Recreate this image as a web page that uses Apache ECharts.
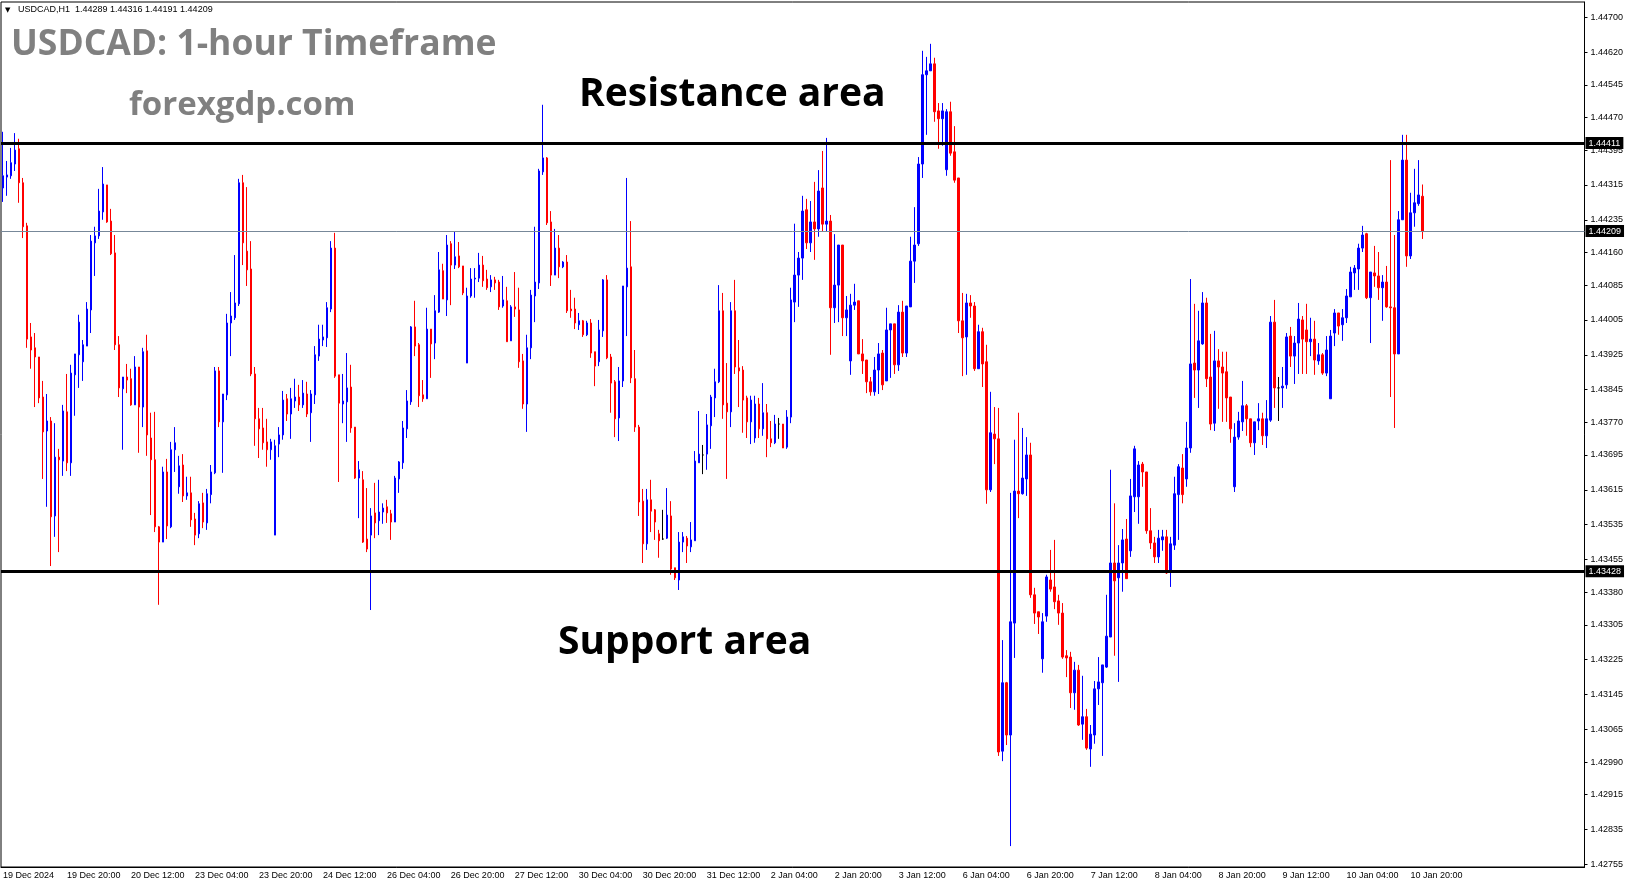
<!DOCTYPE html>
<html><head><meta charset="utf-8">
<script src="https://cdn.jsdelivr.net/npm/echarts@6/dist/echarts.min.js"></script>
<style>html,body{margin:0;padding:0;background:#fff}#c{width:1631px;height:888px}</style>
</head><body><div id="c"></div>
<script>
// ---- categories (hourly bars, broker time) ----
const tradingDays = ['19 Dec','20 Dec','23 Dec','24 Dec','26 Dec','27 Dec','30 Dec','31 Dec','2 Jan','3 Jan','6 Jan','7 Jan','8 Jan','9 Jan','10 Jan'];
const firstBarHour = 4;
const firstLabel = '19 Dec 2024';

// ---- OHLC values ----
const openP = [
1.44308,1.44333,1.44336,1.44363,1.44398,1.44320,1.44221,1.43966,1.43941,1.43920,
1.43828,1.43750,1.43773,1.43555,1.43690,1.43681,1.43794,1.43677,1.43879,1.43925,
1.43909,1.43945,1.44028,1.44182,1.44198,1.44253,1.44315,1.44232,1.44159,1.43948,
1.43847,1.43874,1.43870,1.43810,1.43897,1.43805,1.43934,1.43734,1.43684,1.43530,
1.43495,1.43656,1.43530,1.43707,1.43622,1.43672,1.43601,1.43608,1.43548,1.43514,
1.43585,1.43539,1.43604,1.43654,1.43888,1.43771,1.43833,1.43998,1.44010,1.44042,
1.44320,1.44163,1.44122,1.43881,1.43778,1.43757,1.43725,1.43707,1.43511,1.43720,
1.43741,1.43824,1.43789,1.43819,1.43828,1.43810,1.43835,1.43792,1.43833,1.43922,
1.43959,1.43964,1.44030,1.44170,1.43879,1.43812,1.43817,1.43851,1.43759,1.43642,
1.43638,1.43502,1.43511,1.43562,1.43544,1.43564,1.43576,1.43560,1.43541,1.43640,
1.43677,1.43755,1.43817,1.43989,1.43948,1.43833,1.43824,1.43984,1.43952,1.44023,
1.44118,1.44051,1.44180,1.44131,1.44152,1.44129,1.43906,1.44060,1.44099,1.44101,
1.44131,1.44099,1.44081,1.44097,1.44092,1.44037,1.44049,1.43957,1.44035,1.44028,
1.43911,1.43812,1.43941,1.44060,1.44090,1.44345,1.44377,1.44230,1.44108,1.44170,
1.44127,1.44138,1.44030,1.44030,1.43994,1.44003,1.43971,1.43998,1.43932,1.43909,
1.43980,1.44097,1.43920,1.43863,1.43780,1.43865,1.44081,1.44127,1.43870,1.43759,
1.43589,1.43491,1.43592,1.43569,1.43514,1.43502,1.43504,1.43555,1.43436,1.43408,
1.43495,1.43504,1.43484,1.43498,1.43677,1.43695,1.43697,1.43762,1.43826,1.43863,
1.44026,1.43814,1.43794,1.44026,1.43895,1.43890,1.43826,1.43771,1.43734,1.43812,
1.43755,1.43792,1.43732,1.43723,1.43766,1.43766,1.43713,1.43782,1.44046,1.44108,
1.44147,1.44258,1.44182,1.44230,1.44214,1.44308,1.44225,1.44232,1.44033,1.44085,
1.44177,1.44010,1.43911,1.44039,1.44049,1.43927,1.43913,1.43863,1.43840,1.43890,
1.43929,1.43865,1.43982,1.43996,1.43902,1.44023,1.43929,1.44035,1.44140,1.44180,
1.44363,1.44568,1.44577,1.44593,1.44485,1.44467,1.44350,1.44483,1.44391,1.44331,
1.44003,1.43966,1.44044,1.44037,1.43893,1.43978,1.43909,1.43615,1.43743,1.43732,
1.43015,1.43172,1.43052,1.43309,1.43612,1.43606,1.43640,1.43695,1.43374,1.43335,
1.43227,1.43325,1.43408,1.43392,1.43360,1.43332,1.43234,1.43231,1.43149,1.43201,
1.43077,1.43094,1.43020,1.43052,1.43158,1.43172,1.43208,1.43277,1.43447,1.43413,
1.43447,1.43502,1.43475,1.43599,1.43599,1.43674,1.43656,1.43521,1.43493,1.43461,
1.43500,1.43507,1.43429,1.43488,1.43604,1.43665,1.43640,1.43711,1.43906,1.43890,
1.43950,1.44044,1.43874,1.43768,1.43911,1.43897,1.43886,1.43828,1.43622,1.43736,
1.43771,1.43808,1.43778,1.43723,1.43773,1.43778,1.43739,1.43775,1.44000,1.43849,
1.43849,1.43856,1.43968,1.43922,1.43952,1.44005,1.43982,1.43955,1.43961,1.43911,
1.43925,1.43883,1.43824,1.43975,1.44021,1.43994,1.44010,1.44058,1.44113,1.44122,
1.44170,1.44203,1.44056,1.44113,1.44106,1.44079,1.44092,1.44035,1.44033,1.43927,
1.44235,1.44372,1.44152,1.44251,1.44272,1.44289
];
const closeP = [
1.44336,1.44338,1.44366,1.44395,1.44320,1.44219,1.43961,1.43936,1.43920,1.43826,
1.43748,1.43773,1.43553,1.43690,1.43684,1.43796,1.43677,1.43883,1.43927,1.44000,
1.43948,1.44030,1.44186,1.44198,1.44255,1.44317,1.44230,1.44157,1.43948,1.43849,
1.43874,1.43867,1.43810,1.43897,1.43805,1.43932,1.43741,1.43684,1.43530,1.43495,
1.43656,1.43532,1.43707,1.43723,1.43670,1.43601,1.43608,1.43546,1.43511,1.43583,
1.43541,1.43606,1.43656,1.43888,1.43771,1.43835,1.43998,1.44014,1.44044,1.44320,
1.44182,1.44120,1.43881,1.43778,1.43755,1.43723,1.43707,1.43725,1.43716,1.43741,
1.43821,1.43789,1.43824,1.43828,1.43810,1.43837,1.43789,1.43835,1.43925,1.43961,
1.43966,1.44033,1.44170,1.43876,1.43814,1.43819,1.43849,1.43757,1.43642,1.43661,
1.43495,1.43479,1.43555,1.43539,1.43564,1.43573,1.43562,1.43541,1.43642,1.43679,
1.43757,1.43819,1.43989,1.43945,1.43831,1.43824,1.43984,1.43950,1.44026,1.44120,
1.44053,1.44177,1.44131,1.44150,1.44127,1.44067,1.44060,1.44099,1.44101,1.44131,
1.44095,1.44079,1.44097,1.44090,1.44035,1.44051,1.43955,1.44035,1.44030,1.43909,
1.43812,1.43941,1.44062,1.44092,1.44347,1.44377,1.44228,1.44108,1.44170,1.44127,
1.44138,1.44026,1.44026,1.43998,1.44003,1.43971,1.43998,1.43929,1.43899,1.43982,
1.44097,1.43918,1.43860,1.43778,1.43865,1.44083,1.44124,1.43872,1.43759,1.43587,
1.43491,1.43592,1.43566,1.43541,1.43498,1.43502,1.43557,1.43433,1.43413,1.43495,
1.43507,1.43486,1.43500,1.43681,1.43697,1.43695,1.43764,1.43828,1.43863,1.44026,
1.43810,1.43794,1.44026,1.43897,1.43888,1.43821,1.43771,1.43821,1.43812,1.43755,
1.43792,1.43732,1.43723,1.43766,1.43766,1.43711,1.43782,1.44051,1.44108,1.44147,
1.44255,1.44182,1.44230,1.44214,1.44301,1.44225,1.44232,1.44033,1.44085,1.44177,
1.44010,1.44028,1.44039,1.44046,1.43927,1.43911,1.43863,1.43840,1.43890,1.43927,
1.43856,1.43982,1.43996,1.43902,1.44023,1.43929,1.44037,1.44140,1.44177,1.44363,
1.44568,1.44577,1.44593,1.44483,1.44467,1.44485,1.44483,1.44388,1.44326,1.44003,
1.43964,1.44044,1.44037,1.43893,1.43978,1.43904,1.43615,1.43746,1.43732,1.43013,
1.43172,1.43052,1.43312,1.43612,1.43606,1.43642,1.43695,1.43374,1.43332,1.43323,
1.43312,1.43415,1.43387,1.43358,1.43332,1.43231,1.43229,1.43149,1.43201,1.43075,
1.43094,1.43022,1.43054,1.43158,1.43174,1.43213,1.43279,1.43447,1.43406,1.43447,
1.43500,1.43411,1.43601,1.43709,1.43672,1.43656,1.43521,1.43493,1.43461,1.43504,
1.43507,1.43424,1.43491,1.43606,1.43668,1.43604,1.43711,1.43904,1.43890,1.43957,
1.44044,1.43870,1.43766,1.43911,1.43897,1.43883,1.43826,1.43755,1.43736,1.43773,
1.43808,1.43778,1.43723,1.43771,1.43778,1.43739,1.43778,1.44000,1.43849,1.43849,
1.43853,1.43966,1.43922,1.43952,1.44007,1.43961,1.43955,1.43961,1.43913,1.43925,
1.43883,1.43936,1.43968,1.44021,1.43991,1.44010,1.44060,1.44115,1.44124,1.44170,
1.44200,1.44056,1.44115,1.44106,1.44079,1.44092,1.44035,1.44033,1.43927,1.44235,
1.44372,1.44152,1.44251,1.44274,1.44292,1.44209
];
const lowP = [
1.44276,1.44290,1.44329,1.44347,1.44274,1.44193,1.43941,1.43893,1.43805,1.43814,
1.43640,1.43576,1.43440,1.43507,1.43472,1.43647,1.43658,1.43647,1.43785,1.43849,
1.43865,1.43945,1.43975,1.44106,1.44191,1.44235,1.44228,1.44154,1.43936,1.43828,
1.43707,1.43837,1.43808,1.43810,1.43700,1.43759,1.43693,1.43557,1.43518,1.43351,
1.43495,1.43502,1.43527,1.43656,1.43606,1.43587,1.43592,1.43530,1.43488,1.43504,
1.43527,1.43523,1.43584,1.43651,1.43759,1.43654,1.43821,1.43922,1.44005,1.44037,
1.44131,1.44083,1.43876,1.43716,1.43688,1.43707,1.43668,1.43684,1.43511,1.43690,
1.43730,1.43773,1.43732,1.43803,1.43796,1.43803,1.43782,1.43725,1.43812,1.43911,
1.43945,1.43943,1.44023,1.43872,1.43633,1.43768,1.43725,1.43746,1.43640,1.43550,
1.43493,1.43472,1.43339,1.43504,1.43511,1.43537,1.43539,1.43500,1.43541,1.43608,
1.43663,1.43734,1.43810,1.43922,1.43805,1.43817,1.43824,1.43872,1.43915,1.44021,
1.44053,1.44014,1.44039,1.44122,1.44124,1.44062,1.43906,1.44056,1.44056,1.44092,
1.44081,1.44074,1.44069,1.44074,1.44028,1.44033,1.43955,1.43957,1.44012,1.43895,
1.43801,1.43748,1.43915,1.44000,1.44076,1.44338,1.44223,1.44083,1.44108,1.44101,
1.44124,1.44021,1.44010,1.43984,1.43982,1.43966,1.43968,1.43918,1.43853,1.43899,
1.43966,1.43915,1.43792,1.43736,1.43727,1.43851,1.43968,1.43860,1.43748,1.43555,
1.43447,1.43477,1.43518,1.43500,1.43459,1.43500,1.43502,1.43420,1.43408,1.43385,
1.43472,1.43447,1.43472,1.43498,1.43677,1.43651,1.43661,1.43709,1.43782,1.43860,
1.43778,1.43640,1.43759,1.43881,1.43805,1.43746,1.43734,1.43720,1.43723,1.43734,
1.43739,1.43690,1.43713,1.43720,1.43732,1.43711,1.43709,1.43768,1.44000,1.44035,
1.44097,1.44168,1.44161,1.44143,1.44196,1.44209,1.44209,1.43925,1.43998,1.44000,
1.43968,1.43968,1.43879,1.44028,1.43927,1.43881,1.43837,1.43831,1.43831,1.43835,
1.43844,1.43865,1.43872,1.43881,1.43888,1.43920,1.43920,1.44035,1.44090,1.44175,
1.44331,1.44430,1.44577,1.44460,1.44398,1.44405,1.44336,1.44382,1.44320,1.43975,
1.43876,1.43879,1.44010,1.43888,1.43893,1.43851,1.43583,1.43610,1.43674,1.43004,
1.42992,1.43029,1.42797,1.43229,1.43550,1.43604,1.43601,1.43367,1.43307,1.43284,
1.43195,1.43312,1.43381,1.43341,1.43305,1.43227,1.43185,1.43114,1.43110,1.43073,
1.43041,1.43018,1.42979,1.43032,1.43121,1.43004,1.43206,1.43277,1.43234,1.43174,
1.43381,1.43411,1.43461,1.43564,1.43537,1.43622,1.43514,1.43479,1.43447,1.43447,
1.43475,1.43422,1.43392,1.43477,1.43500,1.43584,1.43622,1.43700,1.43826,1.43803,
1.43948,1.43851,1.43752,1.43750,1.43801,1.43771,1.43771,1.43723,1.43610,1.43730,
1.43750,1.43739,1.43713,1.43695,1.43752,1.43718,1.43711,1.43771,1.43803,1.43773,
1.43803,1.43847,1.43897,1.43858,1.43881,1.43881,1.43881,1.43922,1.43879,1.43902,
1.43879,1.43876,1.43824,1.43945,1.43971,1.43957,1.43998,1.44058,1.44074,1.44074,
1.44161,1.44053,1.43952,1.44081,1.44051,1.44003,1.44033,1.43828,1.43757,1.43927,
1.44235,1.44127,1.44145,1.44219,1.44267,1.44191
];
const highP = [
1.44437,1.44370,1.44400,1.44434,1.44421,1.44331,1.44228,1.43998,1.43975,1.43920,
1.43865,1.43835,1.43782,1.43768,1.43709,1.43810,1.43881,1.43902,1.43927,1.44017,
1.43959,1.44046,1.44200,1.44219,1.44306,1.44356,1.44315,1.44260,1.44200,1.43968,
1.43874,1.43904,1.43893,1.43922,1.43897,1.43941,1.43971,1.43792,1.43794,1.43532,
1.43668,1.43686,1.43725,1.43759,1.43693,1.43697,1.43645,1.43645,1.43562,1.43589,
1.43608,1.43617,1.43672,1.43897,1.43897,1.43835,1.44019,1.44069,1.44154,1.44329,
1.44338,1.44310,1.44186,1.43897,1.43803,1.43803,1.43778,1.43732,1.43730,1.43759,
1.43842,1.43835,1.43849,1.43870,1.43856,1.43867,1.43863,1.43844,1.43945,1.43994,
1.43994,1.44046,1.44186,1.44205,1.43879,1.43881,1.43929,1.43902,1.43759,1.43681,
1.43658,1.43619,1.43573,1.43631,1.43638,1.43584,1.43592,1.43569,1.43647,1.43681,
1.43773,1.43844,1.43991,1.44049,1.43952,1.43867,1.44033,1.43984,1.44062,1.44161,
1.44134,1.44200,1.44186,1.44207,1.44184,1.44129,1.44079,1.44124,1.44124,1.44159,
1.44152,1.44120,1.44108,1.44104,1.44097,1.44106,1.44081,1.44039,1.44115,1.44079,
1.43927,1.43971,1.44074,1.44219,1.44352,1.44499,1.44379,1.44255,1.44214,1.44200,
1.44140,1.44154,1.44074,1.44056,1.44021,1.44005,1.44003,1.44007,1.43932,1.44005,
1.44099,1.44108,1.43927,1.43867,1.43897,1.44083,1.44331,1.44232,1.43936,1.43764,
1.43617,1.43617,1.43638,1.43571,1.43523,1.43569,1.43619,1.43589,1.43436,1.43518,
1.43518,1.43509,1.43541,1.43704,1.43796,1.43718,1.43789,1.43833,1.43893,1.44085,
1.44067,1.43906,1.44046,1.44097,1.43959,1.43899,1.43831,1.43831,1.43831,1.43826,
1.43860,1.43812,1.43773,1.43787,1.43780,1.43766,1.43798,1.44079,1.44226,1.44161,
1.44290,1.44283,1.44278,1.44322,1.44349,1.44393,1.44423,1.44246,1.44202,1.44177,
1.44177,1.44060,1.44065,1.44088,1.44049,1.43961,1.43913,1.43874,1.43920,1.43952,
1.43936,1.44033,1.43996,1.43996,1.44039,1.44049,1.44037,1.44196,1.44264,1.44379,
1.44623,1.44609,1.44639,1.44607,1.44503,1.44503,1.44489,1.44506,1.44450,1.44331,
1.44067,1.44065,1.44062,1.44046,1.43994,1.43987,1.43948,1.43840,1.43805,1.43803,
1.43270,1.43174,1.43608,1.43730,1.43792,1.43757,1.43736,1.43723,1.43390,1.43335,
1.43332,1.43420,1.43477,1.43500,1.43374,1.43355,1.43247,1.43243,1.43220,1.43213,
1.43188,1.43112,1.43075,1.43176,1.43231,1.43213,1.43374,1.43661,1.43584,1.43488,
1.43525,1.43548,1.43640,1.43716,1.43681,1.43679,1.43656,1.43573,1.43507,1.43523,
1.43523,1.43523,1.43507,1.43645,1.43674,1.43697,1.43771,1.44099,1.44042,1.44026,
1.44069,1.44056,1.43973,1.43980,1.43938,1.43932,1.43932,1.43828,1.43768,1.43794,
1.43865,1.43812,1.43778,1.43771,1.43814,1.43792,1.43821,1.44014,1.44051,1.43874,
1.43897,1.43975,1.43989,1.43968,1.44044,1.44014,1.44042,1.44010,1.44003,1.43952,
1.43929,1.43968,1.43982,1.44030,1.44021,1.44030,1.44076,1.44127,1.44131,1.44180,
1.44221,1.44205,1.44115,1.44175,1.44161,1.44108,1.44129,1.44372,1.44200,1.44255,
1.44430,1.44430,1.44297,1.44352,1.44372,1.44316
];

// ---- price axis tick labels and levels ----
const yTickLabels = ['1.44700','1.44620','1.44545','1.44470','1.44395','1.44315','1.44235','1.44160','1.44085','1.44005',
'1.43925','1.43845','1.43770','1.43695','1.43615','1.43535','1.43455','1.43380','1.43305','1.43225','1.43145','1.43065',
'1.42990','1.42915','1.42835','1.42755'];
const resistanceLevel = 1.44411;
const supportLevel = 1.43428;
const lastPrice = 1.44209;
const headerText = 'USDCAD,H1  1.44289 1.44316 1.44191 1.44209';

// ---- build ----
const categories = [];
tradingDays.forEach((d, k) => {
  for (let h = (k === 0 ? firstBarHour : 0); h < 24; h++) categories.push(d + ' ' + String(h).padStart(2, '0') + ':00');
});
const xCats = categories.concat(new Array(40).fill(''));
const candleData = openP.map((o, i) => [o, closeP[i], lowP[i], highP[i]]);
const yTickVals = yTickLabels.map(Number);
const showLbl = (i) => i % 16 === 0 && i < categories.length;

const boxLabel = {
  show: true, position: 'end', distance: 1,
  formatter: (p) => Number(p.value).toFixed(5),
  backgroundColor: '#000', color: '#fff', padding: [2, 3, 1, 3],
  fontSize: 9, fontFamily: 'Liberation Sans'
};

const chart = echarts.init(document.getElementById('c'), null, { renderer: 'canvas', devicePixelRatio: 1 });
chart.setOption({
  animation: false,
  backgroundColor: '#fff',
  grid: { left: 0.5, right: 46.5, top: 2, bottom: 21, show: true, borderColor: '#000', borderWidth: 1, backgroundColor: 'transparent' },
  xAxis: {
    type: 'category', data: xCats, boundaryGap: true,
    axisLine: { lineStyle: { color: '#000', width: 1 } },
    axisTick: { alignWithLabel: true, interval: showLbl, length: 4, lineStyle: { color: '#000' } },
    axisLabel: { interval: showLbl, align: 'left', margin: 4, color: '#000', fontSize: 9, fontFamily: 'Liberation Sans',
      formatter: (v, i) => (i === 0 ? firstLabel : v) },
    splitLine: { show: false }
  },
  yAxis: {
    type: 'value', position: 'right', min: 1.42749, max: 1.44735,
    axisLine: { show: true, lineStyle: { color: '#000' } },
    axisTick: { show: true, customValues: yTickVals, length: 3, lineStyle: { color: '#000' } },
    axisLabel: { customValues: yTickVals, formatter: (v) => Number(v).toFixed(5), margin: 6, color: '#000', fontSize: 9, fontFamily: 'Liberation Sans' },
    splitLine: { show: false }
  },
  series: [{
    type: 'candlestick', data: candleData, barWidth: 2,
    itemStyle: { color: '#0000ff', color0: '#ff0000', borderColor: '#0000ff', borderColor0: '#ff0000', borderColorDoji: '#000', borderWidth: 1 },
    markLine: {
      symbol: ['none', 'none'], silent: true, animation: false, precision: 5,
      data: [
        { yAxis: resistanceLevel, lineStyle: { color: '#000', width: 3, type: 'solid' }, label: boxLabel },
        { yAxis: supportLevel, lineStyle: { color: '#000', width: 3, type: 'solid' }, label: boxLabel },
        { yAxis: lastPrice, lineStyle: { color: '#778899', width: 1, type: 'solid' }, label: boxLabel }
      ]
    }
  }],
  graphic: [
    { type: 'text', x: 5, y: 10, style: { text: '\u25BC', font: '7px "DejaVu Sans"', fill: '#000', verticalAlign: 'middle' } },
    { type: 'text', x: 18, y: 10, style: { text: headerText, font: '9px "Liberation Sans"', fill: '#000', verticalAlign: 'middle' } },
    { type: 'text', x: 11, y: 45, style: { text: 'USDCAD: 1-hour Timeframe', font: 'bold 35.5px "Open Sans"', fill: '#808080', verticalAlign: 'middle' } },
    { type: 'text', x: 129, y: 106, style: { text: 'forexgdp.com', font: 'bold 33px "Open Sans"', fill: '#808080', verticalAlign: 'middle' } },
    { type: 'text', x: 579, y: 95, style: { text: 'Resistance area', font: 'bold 39px "Open Sans"', fill: '#000', verticalAlign: 'middle' } },
    { type: 'text', x: 558, y: 643, style: { text: 'Support area', font: 'bold 39px "Open Sans"', fill: '#000', verticalAlign: 'middle' } }
  ]
});
</script>
</body></html>
